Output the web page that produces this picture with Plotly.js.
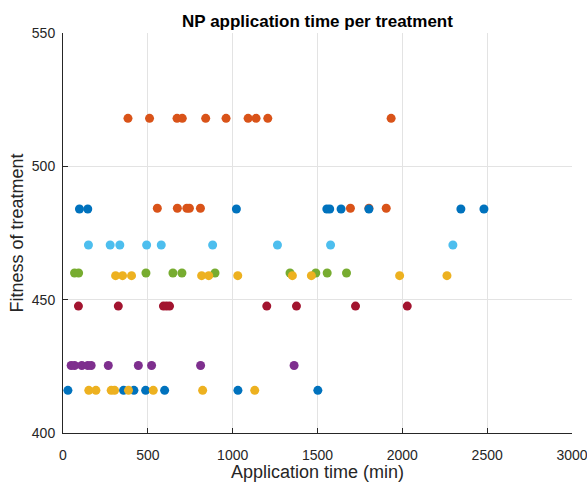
<!DOCTYPE html>
<html><head><meta charset="utf-8">
<script src="https://cdn.plot.ly/plotly-3.0.1.min.js"></script>
<style>html,body{margin:0;padding:0;background:#fff}#chart{width:587px;height:482px}</style>
</head><body><div id="chart"></div>
<script>
// Series values (Application time in min, Fitness of treatment)
const blueX = [97, 146, 1022, 1555, 1572, 1639, 1803, 2345, 2481, 29, 357, 418, 487, 599, 1031, 1502];
const blueY = [484, 484, 484, 484, 484, 484, 484, 484, 484, 416, 416, 416, 416, 416, 416, 416];
const orangeX = [383, 510, 672, 703, 841, 961, 1091, 1138, 1207, 1934, 556, 674, 730, 745, 810, 1694, 1803, 1905];
const orangeY = [518, 518, 518, 518, 518, 518, 518, 518, 518, 518, 484.3, 484.3, 484.3, 484.3, 484.3, 484.3, 484.3, 484.3];
const greenX = [68, 92, 489, 648, 701, 896, 1338, 1490, 1557, 1671];
const greenY = [460, 460, 460, 460, 460, 460, 460, 460, 460, 460];
const lightBlueX = [150, 278, 335, 493, 579, 882, 1264, 1577, 2298];
const lightBlueY = [470.5, 470.5, 470.5, 470.5, 470.5, 470.5, 470.5, 470.5, 470.5];
const darkRedX = [91, 326, 592, 610, 628, 1201, 1376, 1724, 2029];
const darkRedY = [447.6, 447.6, 447.6, 447.6, 447.6, 447.6, 447.6, 447.6, 447.6];
const purpleX = [48, 68, 111, 146, 166, 267, 444, 522, 811, 1362];
const purpleY = [425.3, 425.3, 425.3, 425.3, 425.3, 425.3, 425.3, 425.3, 425.3, 425.3];
const yellowX = [310, 351, 404, 817, 859, 1030, 1352, 1464, 1984, 2263, 152, 194, 284, 304, 386, 532, 823, 1130];
const yellowY = [459, 459, 459, 459, 459, 459, 459, 459, 459, 459, 416, 416, 416, 416, 416, 416, 416, 416];

const xTicks = [0, 500, 1000, 1500, 2000, 2500, 3000];
const yTicks = [400, 450, 500, 550];

const series = [
  {x: orangeX, y: orangeY, c: '#D95319'},
  {x: blueX, y: blueY, c: '#0072BD'},
  {x: greenX, y: greenY, c: '#77AC30'},
  {x: lightBlueX, y: lightBlueY, c: '#4DBEEE'},
  {x: darkRedX, y: darkRedY, c: '#A2142F'},
  {x: purpleX, y: purpleY, c: '#7E2F8E'},
  {x: yellowX, y: yellowY, c: '#EDB120'}
];
const traces = series.map(s => ({
  type: 'scatter', mode: 'markers', x: s.x, y: s.y,
  marker: {color: s.c, size: 9, line: {width: 0}},
  showlegend: false, hoverinfo: 'x+y'
}));

const FAM = 'Liberation Sans, Arial, Helvetica, sans-serif';
const axFont = {family: FAM, size: 14, color: '#262626'};
const layout = {
  width: 587, height: 482,
  margin: {l: 63, r: 15, t: 33, b: 49, pad: 0},
  paper_bgcolor: '#fff', plot_bgcolor: '#fff',
  title: {text: '<b>NP application time per treatment</b>', xref: 'paper', x: 0.5, xanchor: 'center', y: 1 - 21/482, yanchor: 'middle',
          font: {family: FAM, size: 17, color: '#000'}},
  xaxis: {
    range: [0, 3000], tickvals: xTicks, ticktext: xTicks.map(String),
    showgrid: true, gridcolor: '#e3e3e3', gridwidth: 1, zeroline: false,
    showline: true, linecolor: '#262626', linewidth: 1,
    ticks: 'inside', ticklen: 5, tickcolor: '#262626', tickfont: axFont,
    ticklabelstandoff: 9, ticklabeloverflow: 'allow',
    title: {text: 'Application time (min)', font: {family: FAM, size: 18, color: '#262626'}, standoff: 4},
    mirror: false
  },
  yaxis: {
    range: [400, 550], tickvals: yTicks, ticktext: yTicks.map(String),
    showgrid: true, gridcolor: '#e3e3e3', gridwidth: 1, zeroline: false,
    showline: true, linecolor: '#262626', linewidth: 1,
    ticks: 'inside', ticklen: 5, tickcolor: '#262626', tickfont: axFont,
    ticklabelstandoff: 4, ticklabeloverflow: 'allow',
    title: {text: 'Fitness of treatment', font: {family: FAM, size: 18, color: '#262626'}, standoff: 3},
    mirror: false
  }
};
Plotly.newPlot('chart', traces, layout, {displayModeBar: false, staticPlot: true});
</script></body></html>
